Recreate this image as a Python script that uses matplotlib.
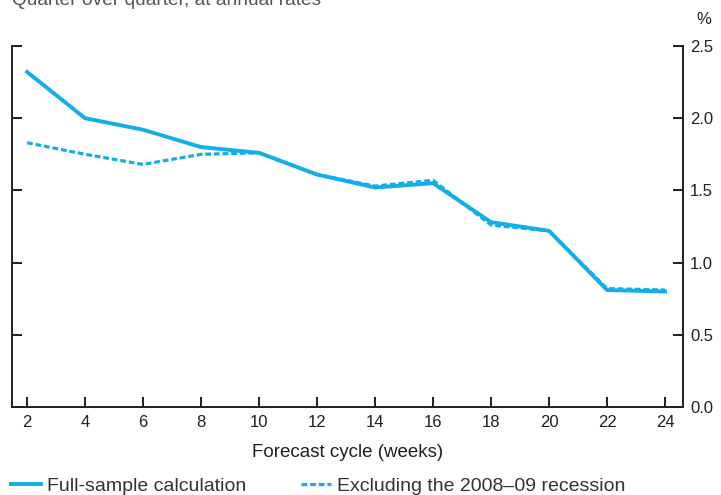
import matplotlib
matplotlib.use("Agg")
from matplotlib import pyplot as plt

plt.rcParams["font.family"] = ["Liberation Sans", "DejaVu Sans"]

weeks = [2, 4, 6, 8, 10, 12, 14, 16, 18, 20, 22, 24]
full_sample = [2.32, 2.00, 1.92, 1.80, 1.76, 1.61, 1.52, 1.55, 1.28, 1.22, 0.81, 0.80]
ex_recession = [1.83, 1.75, 1.68, 1.75, 1.76, 1.61, 1.53, 1.57, 1.26, 1.22, 0.82, 0.81]
y_ticks = [0.0, 0.5, 1.0, 1.5, 2.0, 2.5]

BLUE = "#12AEEA"
INK = "#231f20"

fig = plt.figure(figsize=(7.21, 4.95), dpi=100)
ax = fig.add_axes([12 / 721, 88 / 495, 671 / 721, 361 / 495])

l1, = ax.plot(weeks, full_sample, color=BLUE, lw=2.8,
              label="Full-sample calculation")
l2, = ax.plot(weeks, ex_recession, color=BLUE, lw=2.3, ls=(0, (1.8, 0.9)),
              label="Excluding the 2008\u201309 recession")

ax.set_xlim(1.48, 24.62)
ax.set_ylim(0, 2.5)
ax.set_xticks(weeks)
ax.set_yticks(y_ticks)
ax.set_yticklabels([f"{v:.1f}" for v in y_ticks])

ax.spines["top"].set_visible(False)
for s in ["left", "right", "bottom"]:
    ax.spines[s].set_color(INK)
    ax.spines[s].set_linewidth(1.4)

ax.tick_params(axis="y", direction="in", length=7.5, width=1.4, color=INK,
               left=True, right=True, labelleft=False, labelright=True,
               labelsize=12, labelcolor=INK, pad=5)
ax.tick_params(axis="x", direction="in", length=7.5, width=1.4, color=INK,
               labelsize=12, labelcolor=INK, pad=6)
ax.set_xlabel("Forecast cycle (weeks)", fontsize=13.5, color=INK, labelpad=10)

fig.text(12 / 721, 1 - 5 / 495, "Quarter over quarter, at annual rates",
         fontsize=13.8, color="#555555", va="baseline", ha="left")
fig.text(704 / 721, 1 - 19 / 495, "%", fontsize=12, color=INK,
         va="center", ha="center")

fig.legend(handles=[l1, l2], loc="center left",
           bbox_to_anchor=(11 / 721, 1 - 486 / 495),
           ncol=2, frameon=False, fontsize=14, handlelength=1.55,
           handletextpad=0.31, columnspacing=2.8, borderpad=0,
           borderaxespad=0, labelcolor="#333333")

fig.savefig("out.png", dpi=100)
